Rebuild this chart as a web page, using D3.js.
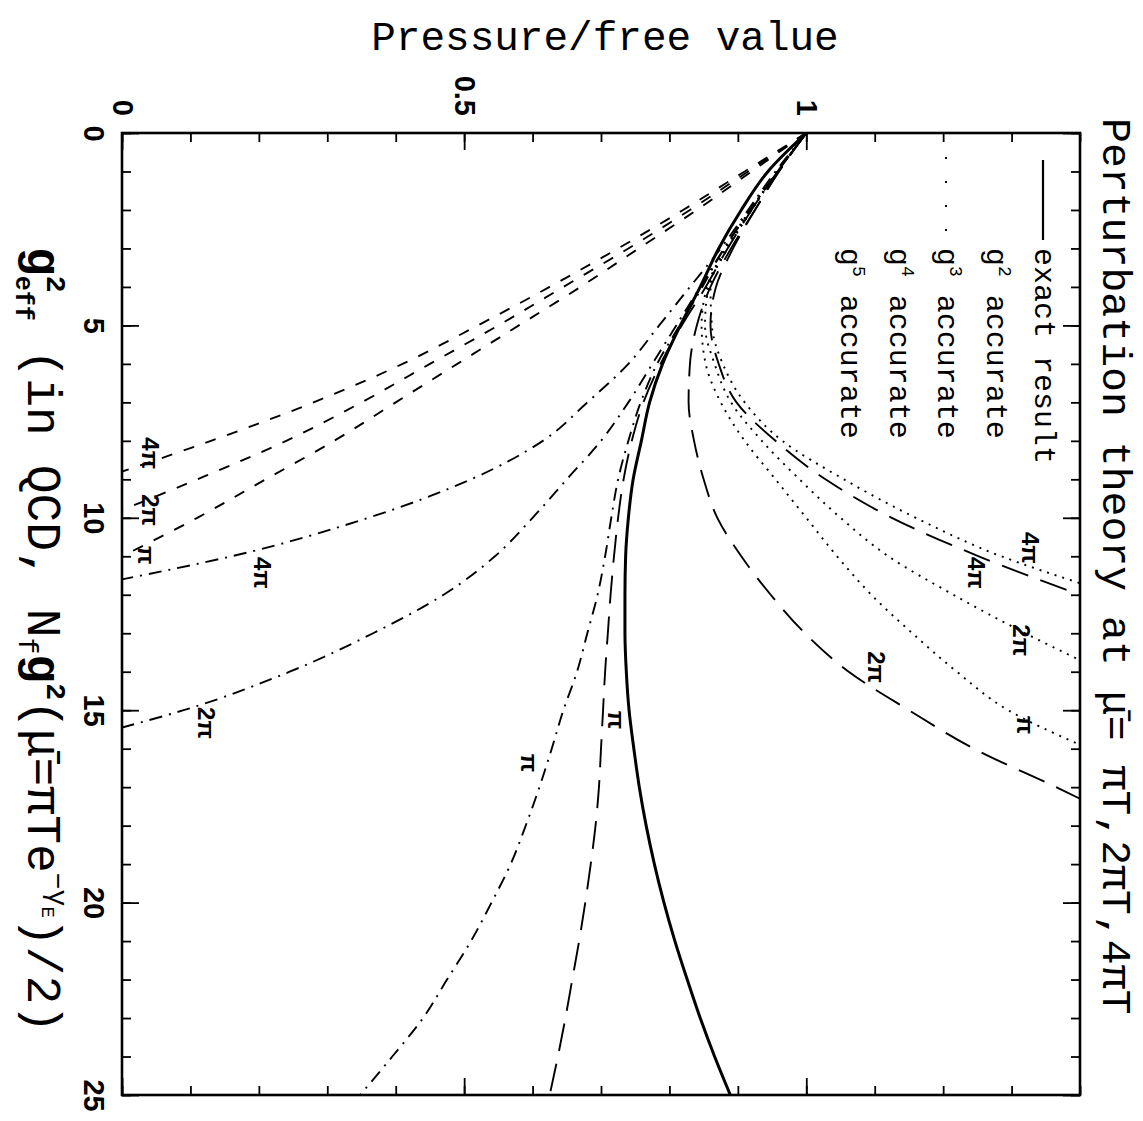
<!DOCTYPE html>
<html>
<head>
<meta charset="utf-8">
<script src="https://cdn.jsdelivr.net/npm/d3@7"></script>
<style>
body { margin: 0; background: #fff; }
</style>
</head>
<body>
<script>
const W = 1143, H = 1121;

// axis ticks
const pMinorTicks = [0, 0.1, 0.2, 0.3, 0.4, 0.5, 0.6, 0.7, 0.8, 0.9, 1, 1.1, 1.2, 1.3, 1.4];
const pMajorTicks = [0, 0.5, 1];
const gMinorTicks = [0, 1, 2, 3, 4, 5, 6, 7, 8, 9, 10, 11, 12, 13, 14, 15, 16, 17, 18, 19, 20, 21, 22, 23, 24, 25];
const gMajorTicks = [0, 5, 10, 15, 20, 25];

// curves: [g2eff, pressure/free]
const exact = [[0,1],[1,0.944],[2,0.905],[3,0.872],[4,0.845],[5,0.816],[6,0.79],[7,0.771],[8,0.759],[9,0.747],[10,0.74],[11,0.736],[12,0.735],[13,0.735],[14,0.737],[15,0.741],[16,0.748],[17,0.756],[18,0.766],[19,0.778],[20,0.792],[21,0.808],[22,0.826],[23,0.845],[24,0.866],[25,0.889]];

const g2Pi = [[0,1],[1,0.92],[2,0.84],[3,0.755],[4,0.67],[5,0.58],[6,0.49],[7,0.4],[8,0.31],[9,0.21],[10,0.11],[11,0]];
const g2TwoPi = [[0,1],[1,0.915],[2,0.83],[3,0.74],[4,0.645],[5,0.55],[6,0.45],[7,0.35],[8,0.24],[9,0.11],[9.8,0]];
const g2FourPi = [[0,1],[1,0.91],[2,0.82],[3,0.725],[4,0.625],[5,0.52],[6,0.41],[7,0.28],[8,0.13],[8.8,0]];

const g3Pi = [[0,1],[1,0.958],[2,0.918],[3,0.882],[4,0.855],[5,0.847],[6,0.853],[7,0.875],[8,0.91],[9,0.955],[10,1],[11,1.045],[12,1.095],[13,1.155],[14,1.22],[15,1.295],[15.9,1.4]];
const g3TwoPi = [[0,1],[1,0.958],[2,0.92],[3,0.885],[4,0.857],[5,0.852],[6,0.866],[7,0.89],[8,0.935],[9,0.99],[10,1.05],[11,1.12],[12,1.215],[13,1.32],[13.7,1.4]];
const g3FourPi = [[0,1],[1,0.958],[2,0.92],[3,0.885],[4,0.86],[5,0.862],[6,0.878],[7,0.91],[8,0.965],[9,1.055],[10,1.16],[11,1.285],[11.7,1.4]];

const g4Pi = [[0,1],[1,0.958],[2,0.918],[3,0.88],[4,0.848],[5,0.815],[6,0.782],[7,0.758],[8,0.74],[9,0.725],[10,0.715],[11,0.706],[12,0.695],[13,0.68],[14,0.665],[15,0.645],[16,0.628],[17,0.61],[18,0.59],[19,0.568],[20,0.54],[21,0.51],[22,0.475],[23,0.44],[24,0.395],[25,0.348]];
const g4TwoPi = [[0,1],[1,0.958],[2,0.918],[3,0.88],[4,0.845],[5,0.81],[6,0.775],[7,0.74],[8,0.7],[9,0.65],[10,0.6],[11,0.545],[12,0.47],[13,0.367],[14,0.245],[15,0.09],[15.45,0]];
const g4FourPi = [[0,1],[1,0.955],[2,0.915],[3,0.875],[4,0.83],[5,0.785],[6,0.74],[7,0.68],[8,0.615],[9,0.51],[10,0.36],[11,0.16],[11.6,0]];

const g5Pi = [[0,1],[1,0.958],[2,0.92],[3,0.885],[4,0.853],[5,0.818],[6,0.787],[7,0.762],[8,0.745],[9,0.733],[10,0.725],[11,0.719],[12,0.714],[13,0.71],[14,0.706],[15,0.703],[16,0.7],[17,0.697],[18,0.692],[19,0.685],[20,0.677],[21,0.668],[22,0.658],[23,0.648],[24,0.637],[25,0.625]];
const g5TwoPi = [[0,1],[1,0.96],[2,0.925],[3,0.89],[4,0.86],[5,0.84],[6,0.83],[7,0.828],[8,0.836],[9,0.85],[10,0.87],[11,0.905],[12,0.948],[13,0.998],[14,1.062],[15,1.15],[16,1.245],[17,1.365],[17.3,1.4]];
const g5FourPi = [[0,1],[1,0.96],[2,0.925],[3,0.893],[4,0.868],[5,0.86],[6,0.872],[7,0.898],[8,0.955],[9,1.028],[10,1.125],[11,1.252],[12,1.4]];

// scale labels beside the curves: [text, g2eff, pressure]
const curveLabels = [
	['4π', 8.32, 0.042], ['2π', 9.8, 0.042], ['π', 10.97, 0.036],
	['4π', 11.43, 0.206], ['2π', 15.33, 0.124], ['π', 16.37, 0.596],
	['π', 15.25, 0.723], ['2π', 13.88, 1.103], ['4π', 11.43, 1.249],
	['4π', 10.78, 1.327], ['2π', 13.18, 1.315], ['π', 15.38, 1.32]
];

const legendNames = ['exact result', 'accurate', 'accurate', 'accurate', 'accurate'];
const legendPowers = [null, '2', '3', '4', '5'];

const svg = d3.select('body')
	.append('svg')
	.attr('width', W)
	.attr('height', H)
	.style('font-family', '"Liberation Mono", "DejaVu Sans Mono", monospace');

// the figure is turned a quarter: pressure runs left->right, g2eff top->bottom
const x = d3.scaleLinear().domain([0, 1.4]).range([122, 1080]);
const y = d3.scaleLinear().domain([0, 25]).range([133, 1095]);

svg.append('defs').append('clipPath').attr('id', 'frame')
	.append('rect')
	.attr('x', x(0)).attr('y', y(0))
	.attr('width', x(1.4) - x(0)).attr('height', y(25) - y(0));

// ticks, all pointing inwards
function ticks(axis, pos, values, size) {
	svg.append('g')
		.attr('transform', pos)
		.call(axis.tickValues(values).tickSize(-size).tickFormat(''))
		.call(g => g.select('.domain').remove())
		.call(g => g.selectAll('.tick line').attr('stroke-width', 1.8));
}
ticks(d3.axisTop(x), `translate(0,${y(0)})`, pMinorTicks, 9);
ticks(d3.axisBottom(x), `translate(0,${y(25)})`, pMinorTicks, 9);
ticks(d3.axisBottom(x), `translate(0,${y(25)})`, pMajorTicks, 17);
ticks(d3.axisLeft(y), `translate(${x(0)},0)`, gMinorTicks, 9);
ticks(d3.axisRight(y), `translate(${x(1.4)},0)`, gMinorTicks, 9);
ticks(d3.axisRight(y), `translate(${x(1.4)},0)`, gMajorTicks, 17);

// labelled major ticks
svg.append('g')
	.attr('transform', `translate(0,${y(0)})`)
	.call(d3.axisTop(x).tickValues(pMajorTicks).tickSize(-17).tickFormat(d3.format('')))
	.call(g => g.select('.domain').remove())
	.call(g => g.selectAll('.tick line').attr('stroke-width', 1.8))
	.attr('font-family', '"Liberation Sans", Arial, sans-serif')
	.attr('font-size', 29)
	.attr('font-weight', 'bold')
	.call(g => g.selectAll('.tick text')
		.attr('y', null).attr('dy', null)
		.attr('fill', '#000')
		.attr('text-anchor', 'end')
		.attr('dominant-baseline', 'central')
		.attr('transform', 'translate(0,-17) rotate(90)'));

svg.append('g')
	.attr('transform', `translate(${x(0)},0)`)
	.call(d3.axisLeft(y).tickValues(gMajorTicks).tickSize(-17).tickFormat(d3.format('')))
	.call(g => g.select('.domain').remove())
	.call(g => g.selectAll('.tick line').attr('stroke-width', 1.8))
	.attr('font-family', '"Liberation Sans", Arial, sans-serif')
	.attr('font-size', 29)
	.attr('font-weight', 'bold')
	.call(g => g.selectAll('.tick text')
		.attr('x', null).attr('dy', null)
		.attr('fill', '#000')
		.attr('text-anchor', 'middle')
		.attr('transform', 'translate(-38,0) rotate(90)'));

// curves
const line = d3.line()
	.x(d => x(d[1]))
	.y(d => y(d[0]))
	.curve(d3.curveMonotoneY);

const dashed = '11,12', dotted = '2,6', dashDot = '13,7,2,7', longDash = '28,13';
const series = [
	{data: g2Pi, dash: dashed}, {data: g2TwoPi, dash: dashed}, {data: g2FourPi, dash: dashed},
	{data: g3Pi, dash: dotted}, {data: g3TwoPi, dash: dotted}, {data: g3FourPi, dash: dotted},
	{data: g4Pi, dash: dashDot}, {data: g4TwoPi, dash: dashDot}, {data: g4FourPi, dash: dashDot},
	{data: g5Pi, dash: longDash}, {data: g5TwoPi, dash: longDash}, {data: g5FourPi, dash: longDash},
	{data: exact, dash: null, width: 3}
];

svg.append('g')
	.attr('clip-path', 'url(#frame)')
	.selectAll('path')
	.data(series)
	.enter()
	.append('path')
	.attr('d', d => line(d.data))
	.attr('fill', 'none')
	.attr('stroke', '#000')
	.attr('stroke-width', d => d.width || 1.9)
	.attr('stroke-dasharray', d => d.dash);

svg.append('g')
	.selectAll('text')
	.data(curveLabels)
	.enter()
	.append('text')
	.attr('transform', d => `translate(${x(d[2])},${y(d[1])}) rotate(90)`)
	.attr('text-anchor', 'middle')
	.attr('dominant-baseline', 'central')
	.attr('font-family', '"Liberation Sans", Arial, sans-serif')
	.attr('font-weight', 'bold')
	.attr('font-size', 24)
	.text(d => d[0]);

// frame
svg.append('rect')
	.attr('x', x(0)).attr('y', y(0))
	.attr('width', x(1.4) - x(0)).attr('height', y(25) - y(0))
	.attr('fill', 'none')
	.attr('stroke', '#000')
	.attr('stroke-width', 2.6);

function rotText(px, py) {
	return svg.append('text').attr('transform', `translate(${px},${py}) rotate(90)`);
}

// legend
legendNames.forEach((name, i) => {
	const t = rotText(1035 - i * 48.5, 248).attr('font-size', 30);
	if (legendPowers[i]) {
		t.append('tspan').text('g');
		t.append('tspan').attr('font-size', 18).attr('dy', -12).text(legendPowers[i]);
		t.append('tspan').attr('dy', 12).text(' ' + name);
	} else {
		t.text(name);
	}
});
svg.append('line')
	.attr('x1', 1043).attr('x2', 1043).attr('y1', 160).attr('y2', 240)
	.attr('stroke', '#000').attr('stroke-width', 2.2);
svg.append('line')
	.attr('x1', 946).attr('x2', 946).attr('y1', 157).attr('y2', 240)
	.attr('stroke', '#000').attr('stroke-width', 2)
	.attr('stroke-dasharray', '2,22');

// title
const title = rotText(1103, 118).attr('font-size', 41.5);
title.append('tspan').text('Perturbation theory at ');
title.append('tspan').text('\u03BC\u0304');
title.append('tspan').text('= \u03C0T,2\u03C0T,4\u03C0T');

// value axis title
svg.append('text')
	.attr('x', 605).attr('y', 50)
	.attr('text-anchor', 'middle')
	.attr('font-size', 41)
	.text('Pressure/free value');

// g2eff axis title
const xl = rotText(28, 247).attr('font-size', 48);
xl.append('tspan').attr('font-weight', 'bold').text('g');
xl.append('tspan').attr('font-weight', 'bold').attr('font-size', 28).attr('dy', -19).text('2');
xl.append('tspan').attr('font-weight', 'bold').attr('font-size', 25).attr('dx', -17).attr('dy', 31).text('eff');
xl.append('tspan').attr('dy', -12).text(' (in QCD, N');
xl.append('tspan').attr('font-size', 28).attr('dy', 9).text('f');
xl.append('tspan').attr('font-weight', 'bold').attr('dy', -9).text('g');
xl.append('tspan').attr('font-weight', 'bold').attr('font-size', 28).attr('dy', -19).text('2');
xl.append('tspan').attr('dy', 19).text('(\u03BC\u0304=\u03C0Te');
xl.append('tspan').attr('font-size', 28).attr('dy', -21).text('\u2212\u03B3');
xl.append('tspan').attr('font-size', 19).attr('dy', 7).text('E');
xl.append('tspan').attr('dy', 14).text(')/2)');
</script>
</body>
</html>
